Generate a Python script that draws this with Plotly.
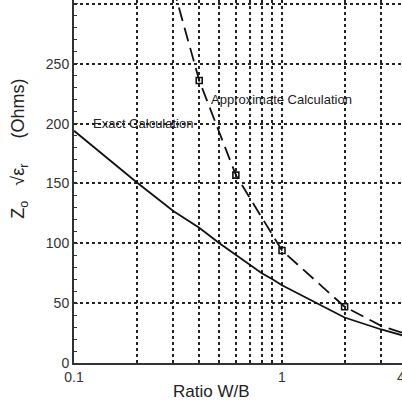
import math
import plotly.graph_objects as go

# Exact calculation (solid line)
exact_x = [0.1, 0.2, 0.3, 0.4, 0.5, 0.6, 0.7, 0.8, 0.9, 1.0, 2.0, 3.0, 4.0]
exact_y = [194, 151, 127, 113, 100, 90, 82, 75, 70, 65, 38, 28, 22]

# Approximate calculation (dashed line)
approx_x = [0.3, 0.4, 0.6, 1.0, 2.0, 3.0, 4.0]
approx_y = [314, 236, 157, 94, 47, 31, 24]

# Marked points on the approximate curve
marker_x = [0.4, 0.6, 1.0, 2.0]
marker_y = [236, 157, 94, 47]

x_grid = [0.1, 0.2, 0.3, 0.4, 0.5, 0.6, 0.7, 0.8, 0.9, 1, 2, 3, 4]
x_text = ["0.1", "", "", "", "", "", "", "", "", "1", "", "", "4"]
y_ticks = [0, 50, 100, 150, 200, 250, 300]

fig = go.Figure()
fig.add_trace(go.Scatter(x=exact_x, y=exact_y, mode="lines",
                         line=dict(color="#111", width=1.8), showlegend=False))
fig.add_trace(go.Scatter(x=approx_x, y=approx_y, mode="lines",
                         line=dict(color="#111", width=1.8, dash="14px,7px"),
                         showlegend=False))
fig.add_trace(go.Scatter(x=marker_x, y=marker_y, mode="markers",
                         marker=dict(symbol="square-open", size=6, color="#111",
                                     line=dict(width=1.6, color="#111")),
                         showlegend=False))

font = "Liberation Sans, Arial, sans-serif"
fig.add_annotation(x=math.log10(0.1), y=200, xref="x", yref="y",
                   text="Exact Calculation", showarrow=False,
                   xanchor="left", xshift=17, font=dict(family=font, size=13, color="#222"))
fig.add_annotation(x=math.log10(0.42), y=220, xref="x", yref="y",
                   text="Approximate Calculation", showarrow=False,
                   xanchor="left", xshift=5, font=dict(family=font, size=13, color="#222"))

# axis titles placed as annotations (positions as in the reference)
fig.add_annotation(x=-0.165, y=0.59, xref="paper", yref="paper",
                   text="Z<sub>o</sub>   √ε<sub>r</sub>     (Ohms)", textangle=-90,
                   showarrow=False, xanchor="center", yanchor="middle",
                   font=dict(family=font, size=18, color="#222"))
fig.add_annotation(x=0.419, y=0, xref="paper", yref="paper",
                   text="Ratio W/B", showarrow=False,
                   xanchor="center", yanchor="top", yshift=-17,
                   font=dict(family=font, size=17, color="#222"))
fig.add_annotation(x=1.015, y=0, xref="paper", yref="paper", text="4",
                   showarrow=False, yanchor="top", yshift=-4,
                   font=dict(family=font, size=14, color="#333"))

fig.update_layout(
    width=402, height=402,
    margin=dict(l=74, r=0, t=0, b=39),
    paper_bgcolor="white", plot_bgcolor="white",
    font=dict(family=font, color="#333"),
    xaxis=dict(type="log", range=[-1, math.log10(3.775)], automargin=False,
               tickvals=x_grid, ticktext=x_text,
               showgrid=True, gridcolor="#222", griddash="dot", gridwidth=1.6,
               showline=True, linecolor="#333", linewidth=2,
               ticks="", tickfont=dict(size=14, color="#333"),
               zeroline=False),
    yaxis=dict(range=[0, 303.3], tickvals=y_ticks, automargin=False,
               showgrid=True, gridcolor="#222", griddash="dot", gridwidth=1.6,
               showline=True, linecolor="#333", linewidth=2,
               ticks="inside", ticklen=4, tickcolor="#333",
               minor=dict(dtick=10, ticks="inside", ticklen=3, tickcolor="#333", showgrid=False),
               tickfont=dict(size=14, color="#333"),
               zeroline=False),
)
fig.write_html("out.html", config={"displayModeBar": False},
               post_script="document.body.style.margin='0';document.body.style.padding='0';window.dispatchEvent(new Event('resize'));")
